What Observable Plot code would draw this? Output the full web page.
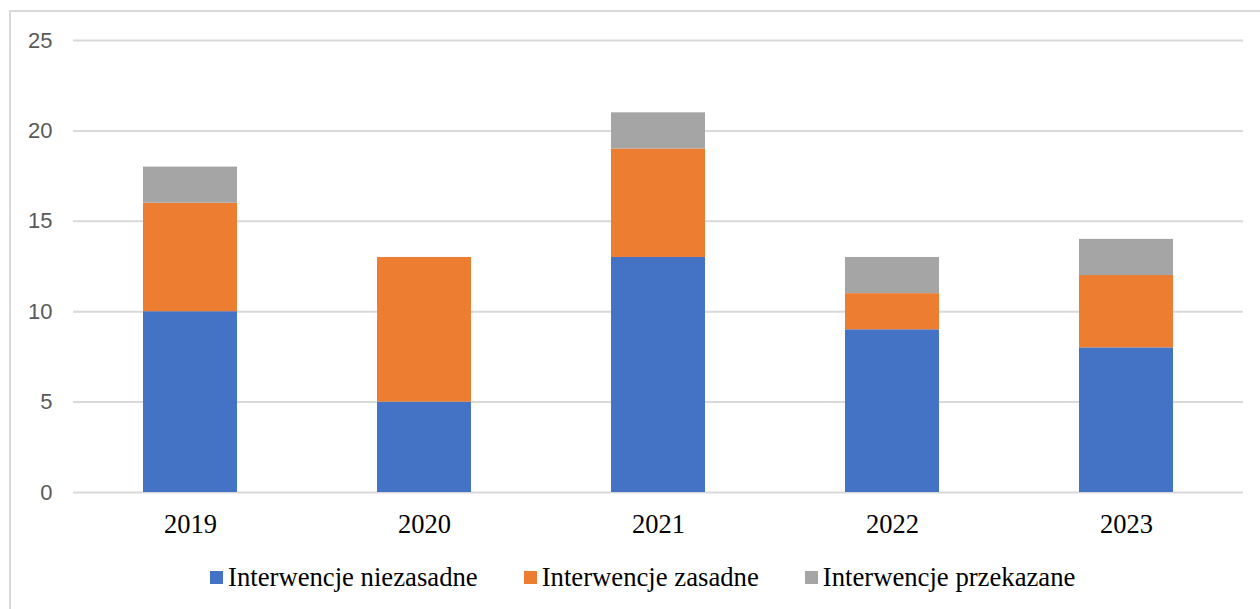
<!DOCTYPE html>
<html>
<head>
<meta charset="utf-8">
<script src="https://cdn.jsdelivr.net/npm/d3@7"></script>
<script src="https://cdn.jsdelivr.net/npm/@observablehq/plot@0.6"></script>
<style>
  html, body { margin: 0; padding: 0; background: #fff; }
  #wrap { position: relative; width: 1260px; height: 609px; overflow: hidden; }
  #frame { position: absolute; left: 9px; top: 10px; width: 1300px; height: 700px;
           border-top: 2px solid #d9d9d9; border-left: 2px solid #d9d9d9; box-sizing: border-box; pointer-events: none; }
  #chart svg { display: block; }
  #legend { position: absolute; left: 210px; top: 562px; display: flex; align-items: center; gap: 46px;
            font-family: "Liberation Serif", "Times New Roman", serif; font-size: 26.7px; color: #000; }
  .item { display: flex; align-items: center; gap: 5px; white-space: nowrap; font-family: "Liberation Serif", serif; }
  .sw { width: 13px; height: 13px; display: inline-block; }
</style>
</head>
<body>
<div id="wrap">
  <div id="chart"></div>
  <div id="legend"></div>
  <div id="frame"></div>
</div>
<script>
const years = ["2019", "2020", "2021", "2022", "2023"];
const niezasadne = [10, 5, 13, 9, 8];
const zasadne = [6, 8, 6, 2, 4];
const przekazane = [2, 0, 2, 2, 2];
const seriesNames = ["Interwencje niezasadne", "Interwencje zasadne", "Interwencje przekazane"];
const seriesColors = ["#4472C4", "#ED7D31", "#A5A5A5"];
const yTicks = [0, 5, 10, 15, 20, 25];

const seriesValues = [niezasadne, zasadne, przekazane];
const data = [];
years.forEach((yr, i) => {
  seriesNames.forEach((s, j) => {
    data.push({year: yr, series: s, value: seriesValues[j][i]});
  });
});

const chart = Plot.plot({
  width: 1260,
  height: 545,
  marginLeft: 73,
  marginRight: 17,
  marginTop: 40,
  marginBottom: 53,
  style: {background: "transparent", overflow: "visible"},
  x: {domain: years, paddingInner: 0.6, paddingOuter: 0.3, label: null},
  y: {domain: [0, 25], label: null},
  color: {domain: seriesNames, range: seriesColors},
  marks: [
    Plot.ruleY(yTicks, {stroke: "#d9d9d9", strokeWidth: 2}),
    Plot.barY(data, {x: "year", y: "value", fill: "series"}),
    Plot.axisY({ticks: yTicks, tickSize: 0, tickPadding: 21, fontSize: 22,
                fontFamily: "Liberation Sans, Arial, sans-serif", fill: "#595959", label: null}),
    Plot.axisX({tickSize: 0, tickPadding: 22, fontSize: 26.5,
                fontFamily: "Liberation Serif, Times New Roman, serif", fill: "#000", label: null})
  ]
});
document.getElementById("chart").appendChild(chart);

const legend = document.getElementById("legend");
seriesNames.forEach((s, j) => {
  const item = document.createElement("div");
  item.className = "item";
  const sw = document.createElement("span");
  sw.className = "sw";
  sw.style.background = seriesColors[j];
  const t = document.createElement("span");
  t.textContent = s;
  item.appendChild(sw);
  item.appendChild(t);
  legend.appendChild(item);
});
</script>
</body>
</html>
